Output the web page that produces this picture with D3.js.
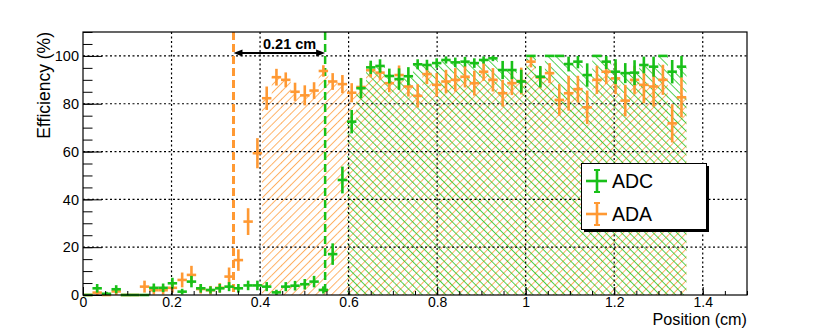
<!DOCTYPE html>
<html><head><meta charset="utf-8">
<script src="https://cdn.jsdelivr.net/npm/d3@7/dist/d3.min.js"></script>
<style>
body{margin:0;background:#fff;}
svg{display:block;}
text{font-family:"Liberation Sans",Arial,Helvetica,sans-serif;fill:#000;}
</style>
</head><body>
<svg id="c" width="830" height="328"></svg>
<script>
// ---------- data ----------
const positions = [0.011,0.032,0.053,0.075,0.096,0.117,0.139,0.160,0.181,0.202,
  0.224,0.245,0.266,0.288,0.309,0.330,0.351,0.373,0.394,0.415,
  0.437,0.458,0.479,0.501,0.522,0.543,0.564,0.586,0.607,0.628,
  0.650,0.671,0.692,0.714,0.735,0.756,0.777,0.799,0.820,0.841,
  0.863,0.884,0.905,0.926,0.948,0.969,0.990,1.012,1.033,1.054,
  1.076,1.097,1.118,1.139,1.161,1.182,1.203,1.225,1.246,1.267,
  1.289,1.310,1.331,1.352];
const binWidth = 0.0213;

const adcEff = [0,2.8,0.5,2.4,0,0,0,3,3,4.9,
  1.4,5.6,2.8,2.1,2.8,3.5,2.8,4,4,3.5,
  1.1,3.5,3.9,4.5,5.6,2.1,17.1,48.1,72.5,86.5,
  95.2,95.8,91.6,90.3,91.5,96.5,96.2,97,98.3,97.3,
  97.6,97,98.3,99,94.1,94.1,89.3,100,91.3,100,
  100,96.6,97.6,92,100,97.6,93.4,92.8,93,96.2,
  95.5,100,93.4,95.5];
const adcErr = [0,1.8,0.8,1.7,0,0,0,1.8,1.8,2.3,
  1.2,2.4,1.8,1.5,1.8,1.9,1.8,2,2,1.9,
  1.1,1.9,2,2.2,2.4,1.5,4.5,5.6,4.9,4.2,
  2.8,2.8,3.1,4.5,3.8,2.1,2.2,2,1.5,2,
  2,2,1.5,1.2,3.8,3.8,4.9,0,4.5,0,
  0,3.1,2.8,4.9,0,3.1,5.2,4.2,5.2,3.5,
  4.2,0,4.9,4.5];

const adaEff = [0,1,0,1.5,0,0,3.5,2,2,3,
  6.3,8.4,2.5,2,3,7.7,14.6,30.7,59.3,82.3,
  91.1,90,85,83.5,85.5,93.7,89.3,88.2,84.6,87,
  94,93,88.6,92,87.2,83.3,92.4,87.9,89.3,90,
  91.3,88.6,93.4,90,84.4,88.6,89.5,97.6,91,92.8,
  81.6,84.4,86.1,78.5,90,93.4,90.6,81.3,90,87.9,
  87.2,90,71.8,82.7];
const adaErr = [0,1.2,0,1.5,0,0,2.5,1.8,1.8,2,
  3.1,3.8,1.9,1.8,2,3.8,4.5,5.6,6.3,4.9,
  3.5,3.1,3.8,4.2,3.5,2.4,3.5,3.8,4,3.8,
  3,3,3.8,4,4.2,4.9,4.2,4.9,4.9,4.9,
  4.5,5.2,3.8,4.9,5.6,5,5.6,2.4,4.5,4.2,
  6.6,7.3,5.6,7,5.9,5.2,6.6,6.6,5.9,7.7,
  8.4,6.3,8,8.4];

const seriesNames = ["ADC","ADA"];
const xTicks = [0,0.2,0.4,0.6,0.8,1,1.2,1.4];
const yTicks = [0,20,40,60,80,100];
const adaThreshold = 0.340, adcThreshold = 0.547;
const adaHatchStart = 0.405, adcHatchStart = 0.596;
const gapLabel = "0.21 cm";
const xTitle = "Position (cm)", yTitle = "Efficiency (%)";

// ---------- layout ----------
const GREEN = "#18c018", ORANGE = "#ff9933";
const L = 83, R = 747, T = 32, B = 295;
const x = d3.scaleLinear().domain([0,1.5]).range([L,R]);
const y = d3.scaleLinear().domain([0,110]).range([B,T]);
const svg = d3.select("#c");

const defs = svg.append("defs");
function hatch(id, color, angle){
  const p = defs.append("pattern").attr("id",id).attr("patternUnits","userSpaceOnUse")
    .attr("width",5.6).attr("height",5.6).attr("patternTransform",`rotate(${angle})`);
  p.append("line").attr("x1",0.5).attr("y1",-1).attr("x2",0.5).attr("y2",7)
    .style("stroke",color).style("stroke-width","0.75px");
}
hatch("hOr", ORANGE, 45);
hatch("hGr", GREEN, -45);

const series = [
  {name:"ADA", eff:adaEff, err:adaErr, color:ORANGE, hatchFrom:adaHatchStart, pat:"url(#hOr)"},
  {name:"ADC", eff:adcEff, err:adcErr, color:GREEN, hatchFrom:adcHatchStart, pat:"url(#hGr)"}
];

// hatched filled histograms
series.forEach(s => {
  const bins = positions.map((p,i)=>({p, v:s.eff[i]})).filter(d => d.p - binWidth/2 >= s.hatchFrom - 0.005);
  svg.append("g").selectAll("rect").data(bins).join("rect")
    .attr("x", d => x(d.p - binWidth/2))
    .attr("width", d => x(d.p + binWidth/2) - x(d.p - binWidth/2) + 0.3)
    .attr("y", d => y(d.v))
    .attr("height", d => y(0) - y(d.v))
    .style("fill", s.pat).style("stroke","none");
});

// grid
const grid = svg.append("g").attr("stroke","#000").attr("stroke-width",1.2).attr("stroke-dasharray","2,2.5");
grid.selectAll(".gx").data(xTicks.filter(t=>t>0)).join("line")
  .attr("x1",d=>x(d)).attr("x2",d=>x(d)).attr("y1",T).attr("y2",B);
grid.selectAll(".gy").data(yTicks.filter(t=>t>0)).join("line")
  .attr("x1",L).attr("x2",R).attr("y1",d=>y(d)).attr("y2",d=>y(d));

// threshold dashed lines
svg.append("line").attr("x1",x(adaThreshold)).attr("x2",x(adaThreshold)).attr("y1",T).attr("y2",B)
  .attr("stroke",ORANGE).attr("stroke-width",3).attr("stroke-dasharray","8,4");
svg.append("line").attr("x1",x(adcThreshold)).attr("x2",x(adcThreshold)).attr("y1",T).attr("y2",B)
  .attr("stroke",GREEN).attr("stroke-width",2.5).attr("stroke-dasharray","8,4");

// data points (error crosses)
series.forEach(s => {
  const g = svg.append("g").attr("stroke", s.color).attr("stroke-width",2.6).attr("fill","none");
  const pts = positions.map((p,i)=>({p, v:s.eff[i], e:s.err[i]}));
  g.selectAll(".h").data(pts).join("line")
    .attr("x1", d => x(d.p - binWidth/2)).attr("x2", d => x(d.p + binWidth/2))
    .attr("y1", d => y(d.v)).attr("y2", d => y(d.v));
  g.selectAll(".v").data(pts.filter(d=>d.e>0)).join("line")
    .attr("x1", d => x(d.p)).attr("x2", d => x(d.p))
    .attr("y1", d => y(Math.max(0,d.v - d.e))).attr("y2", d => y(Math.min(100,d.v + d.e)));
});

// arrow with label
const ay = 53;
const ax1 = x(adaThreshold), ax2 = x(adcThreshold);
svg.append("line").attr("x1",ax1+6).attr("x2",ax2-6).attr("y1",ay).attr("y2",ay)
  .attr("stroke","#000").attr("stroke-width",2);
svg.append("path").attr("d",`M${ax1},${ay} L${ax1+9},${ay-3.5} L${ax1+9},${ay+3.5} Z`).attr("fill","#000");
svg.append("path").attr("d",`M${ax2},${ay} L${ax2-9},${ay-3.5} L${ax2-9},${ay+3.5} Z`).attr("fill","#000");
svg.append("text").attr("x",263).attr("y",49).attr("font-size",14.5).attr("font-weight","bold").text(gapLabel);

// axes
const fmt = d => String(+d.toFixed(1));
svg.append("g").attr("class","xax").attr("transform",`translate(0,${B})`)
  .call(d3.axisBottom(x).tickValues(xTicks).tickSize(-8).tickPadding(1.8).tickFormat(fmt));
svg.append("g").attr("transform",`translate(0,${B})`)
  .call(d3.axisBottom(x).tickValues(d3.range(0,1.5001,0.05)).tickSize(-4).tickFormat(""));
svg.append("g").attr("class","yax").attr("transform",`translate(${L},0)`)
  .call(d3.axisLeft(y).tickValues(yTicks).tickSize(-19).tickPadding(4).tickFormat(fmt));
svg.append("g").attr("transform",`translate(${L},0)`)
  .call(d3.axisLeft(y).tickValues(d3.range(0,110.01,5)).tickSize(-9.5).tickFormat(""));
svg.selectAll(".domain").remove();
svg.selectAll(".tick line").attr("stroke","#000").attr("stroke-width",1);
svg.selectAll(".tick text").attr("font-family","Liberation Sans, Arial, sans-serif").attr("fill","#000");
svg.selectAll(".xax .tick text").attr("font-size",14);
svg.selectAll(".yax .tick text").attr("font-size",14.5);

// frame
svg.append("rect").attr("x",L).attr("y",T).attr("width",R-L).attr("height",B-T)
  .attr("fill","none").attr("stroke","#000").attr("stroke-width",1.2);

// titles
svg.append("text").attr("x",R).attr("y",324.5).attr("text-anchor","end").attr("font-size",16.2).text(xTitle);
svg.append("text").attr("transform",`translate(50,${T}) rotate(-90)`).attr("text-anchor","end")
  .attr("font-size",17.5).text(yTitle);

// legend
const lg = svg.append("g");
lg.append("rect").attr("x",584).attr("y",166).attr("width",125).attr("height",66).attr("fill","#000");
lg.append("rect").attr("x",581.5).attr("y",163.5).attr("width",125).attr("height",66)
  .attr("fill","#fff").attr("stroke","#000").attr("stroke-width",1);
const legItems = [{name:seriesNames[0], color:GREEN, cy:181}, {name:seriesNames[1], color:ORANGE, cy:214}];
legItems.forEach(it => {
  const g = lg.append("g").attr("stroke",it.color).attr("stroke-width",2.6);
  g.append("line").attr("x1",586).attr("x2",607).attr("y1",it.cy).attr("y2",it.cy);
  g.append("line").attr("x1",597).attr("x2",597).attr("y1",it.cy-11).attr("y2",it.cy+11);
  g.append("line").attr("x1",594).attr("x2",600).attr("y1",it.cy-11).attr("y2",it.cy-11).attr("stroke-width",2);
  g.append("line").attr("x1",594).attr("x2",600).attr("y1",it.cy+11).attr("y2",it.cy+11).attr("stroke-width",2);
  lg.append("text").attr("x",612).attr("y",it.cy+7).attr("font-size",19.5).text(it.name);
});
</script>
</body></html>
